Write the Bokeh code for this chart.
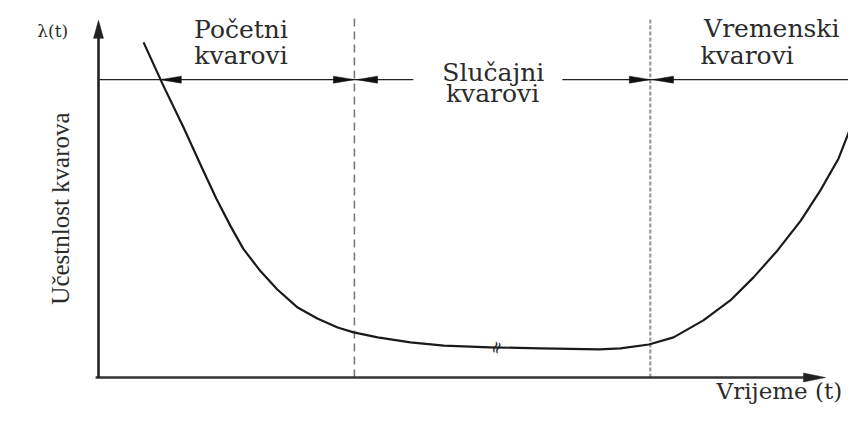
from bokeh.plotting import figure
from bokeh.models import Range1d
from bokeh.core.properties import value
from bokeh.embed import file_html
from bokeh.resources import INLINE

# ---- data (time t, failure rate lambda) ----
curve_t = [0.62, 0.89, 1.17, 1.44, 1.62, 1.82, 1.99, 2.23, 2.46, 2.74, 3.01,
           3.29, 3.51, 3.84, 4.29, 4.75, 5.38, 6.08, 6.89, 7.18, 7.57, 7.91, 8.32,
           8.69, 9.01, 9.34, 9.66, 9.93, 10.18, 10.41]
curve_l = [9.44, 8.23, 7.04, 5.83, 5.04, 4.25, 3.63, 2.99, 2.48, 1.97, 1.66,
           1.41, 1.27, 1.13, 0.99, 0.90, 0.85, 0.82, 0.79, 0.82, 0.93, 1.13, 1.61,
           2.17, 2.82, 3.58, 4.42, 5.27, 6.17, 7.38]
dividers_t = [3.52, 7.59]
divider_top = 10.11
phase_line_l = 8.39
phase_segments = [(0.0, 4.33), (6.38, 10.37)]
# arrow tips on the phase line: (t, direction) direction -1 = left, +1 = right
phase_arrow_tips = [(0.85, -1), (3.52, 1), (3.55, -1), (7.59, 1), (7.62, -1)]
axis_t_end = 10.0
axis_l_end = 10.06

phase_labels = ["Početni\nkvarovi", "Slučajni\nkvarovi", "Vremenski\nkvarovi"]
y_label = "Učestnlost kvarova"
x_label = "Vrijeme (t)"
y_symbol = "λ(t)"

# ---- scale (pixels per unit) ----
PX_T = 72.7
PX_L = 35.5
W, H = 848, 409
T0 = (0 - 98) / PX_T
L1 = (377 - 0) / PX_L
T1 = T0 + W / PX_T
L0 = L1 - H / PX_L

p = figure(width=W, height=H, x_range=Range1d(T0, T1), y_range=Range1d(L0, L1),
           output_backend="svg", toolbar_location=None, min_border=0,
           x_axis_type=None, y_axis_type=None)
p.grid.visible = False
p.outline_line_color = None
p.background_fill_color = "white"
p.border_fill_color = "white"


def head(tip_t, tip_l, dx, dy, length_px, half_px):
    bx = tip_t - dx * length_px / PX_T
    by = tip_l - dy * length_px / PX_L
    px, py = -dy, dx
    xs = [tip_t, bx + px * half_px / PX_T, bx - px * half_px / PX_T]
    ys = [tip_l, by + py * half_px / PX_L, by - py * half_px / PX_L]
    return xs, ys


# dividers
p.line([dividers_t[0]] * 2, [0, divider_top], line_color="#7a7a7a", line_width=1.6,
       line_dash="8 5")
p.line([dividers_t[1]] * 2, [0, divider_top], line_color="#9a9a9a", line_width=2.2,
       line_dash="4 2")

# phase line with arrows
for a, b in phase_segments:
    p.line([a, b], [phase_line_l] * 2, line_color="#222222", line_width=1.4)
hx, hy = [], []
for tt, d in phase_arrow_tips:
    xs, ys = head(tt, phase_line_l, d, 0, 21, 3.5)
    hx.append(xs)
    hy.append(ys)
p.patches(hx, hy, fill_color="#111111", line_color="#111111", line_width=0.5)

# axes
p.line([-0.04, axis_t_end - 18 / PX_T], [0, 0], line_color="#333333", line_width=2.6)
p.line([0, 0], [0, axis_l_end - 16 / PX_L], line_color="#222222", line_width=2.6)
ax, ay = head(axis_t_end, 0, 1, 0, 22, 4.5)
bx_, by_ = head(0, axis_l_end, 0, 1, 18, 5)
p.patches([ax, bx_], [ay, by_], fill_color="#222222", line_color="#222222", line_width=0.5)

# bathtub curve
p.line(curve_t, curve_l, line_color="#1a1a1a", line_width=2.2, line_join="round")

font = value("DejaVu Serif")
col = "#2b2b2b"
# phase labels
lab1 = phase_labels[0].split("\n")
lab2 = phase_labels[1].split("\n")
lab3 = phase_labels[2].split("\n")
p.text(x=[1.96, 1.96, 5.43, 5.42], y=[9.79, 9.08, 8.58, 8.01],
       text=[lab1[0], lab1[1], lab2[0], lab2[1]], text_font=font,
       text_font_size="25px", text_align="center", text_baseline="middle",
       text_color=col)
p.text(x=[8.33, 8.28], y=[9.84, 9.06], text=[lab3[0], lab3[1]], text_font=font,
       text_font_size="25px", text_align="left", text_baseline="middle",
       text_color=col)
# axis labels
p.text(x=[10.23], y=[-0.39], text=[x_label], text_font=font, text_font_size="23px",
       text_align="right", text_baseline="middle", text_color=col)
p.text(x=[-0.52], y=[4.76], text=[y_label], text_font=value("Liberation Serif"),
       text_font_size="25px", text_align="center", text_baseline="middle",
       angle=1.5708, text_color=col)
p.text(x=[-0.63], y=[9.77], text=[y_symbol], text_font=font, text_font_size="17px",
       text_align="center", text_baseline="middle", text_color=col)
# break mark
p.text(x=[5.47], y=[0.85], text=["≈"], text_font=font, text_font_size="17px",
       text_align="center", text_baseline="middle", angle=1.25, text_color="#222222")

open("out.html", "w").write(file_html(p, INLINE))
